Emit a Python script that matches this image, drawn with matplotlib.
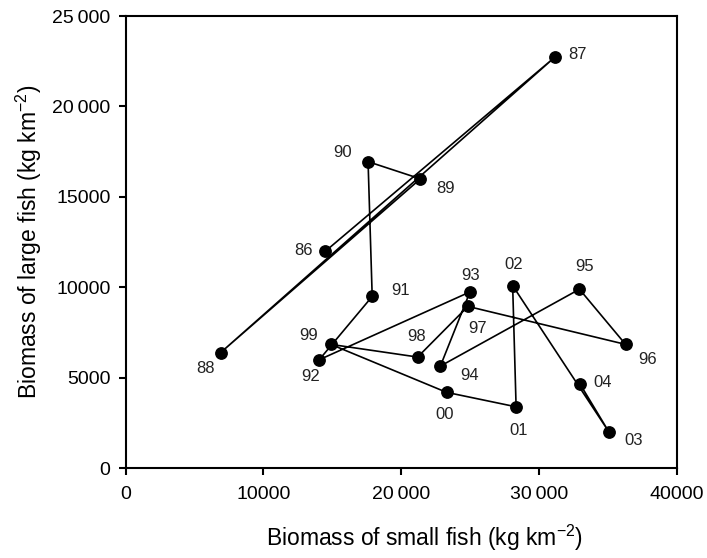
import matplotlib
matplotlib.use("Agg")
import matplotlib.pyplot as plt

plt.rcParams['font.family'] = ['Liberation Sans', 'DejaVu Sans']
plt.rcParams['mathtext.fontset'] = 'custom'
plt.rcParams['mathtext.rm'] = 'Liberation Sans'
plt.rcParams['mathtext.it'] = 'Liberation Sans'
plt.rcParams['mathtext.default'] = 'regular'

# Data (chronological order, years 1986-2004)
years = ["86", "87", "88", "89", "90", "91", "92", "93", "94", "95",
         "96", "97", "98", "99", "00", "01", "02", "03", "04"]
small_fish = [14500, 31200, 6900, 21400, 17600, 17900, 14050, 25000, 22850, 32950,
              36300, 24850, 21200, 14900, 23300, 28350, 28100, 35100, 33000]
large_fish = [12000, 22750, 6400, 16000, 16950, 9500, 6000, 9750, 5650, 9900,
              6850, 8950, 6150, 6850, 4200, 3400, 10100, 2000, 4650]

x_ticks = [0, 10000, 20000, 30000, 40000]
x_ticklabels = ["0", "10000", "20\u2009000", "30\u2009000", "40000"]
y_ticks = [0, 5000, 10000, 15000, 20000, 25000]
y_ticklabels = ["0", "5000", "10000", "15000", "20\u2009000", "25\u2009000"]

# label offsets in pixels (style only)
label_offsets = [(-22, 1), (22, 2), (-15, -16), (25, -10), (-26, 9), (28, 6),
                 (-9, -17), (1, 16), (29, -9), (5, 23), (22, -15), (10, -22),
                 (-1, 21), (-22, 9), (-2, -22), (3, -24), (1, 21), (25, -8), (22, 2)]

fig = plt.figure(figsize=(7.07, 5.58), dpi=100)
ax = fig.add_axes([0.1778, 0.1607, 0.9569 - 0.1778, 0.9713 - 0.1607])

ax.plot(small_fish, large_fish, color='black', lw=1.2, zorder=2)
ax.plot(small_fish, large_fish, 'o', color='black', ms=8.2, zorder=3)

for yr, x, y, off in zip(years, small_fish, large_fish, label_offsets):
    ax.annotate(yr, (x, y), xytext=off, textcoords='offset pixels',
                ha='center', va='center', fontsize=12, color='#222222')

ax.set_xlim(0, 40000)
ax.set_ylim(0, 25000)
ax.set_xticks(x_ticks)
ax.set_xticklabels(x_ticklabels)
ax.set_yticks(y_ticks)
ax.set_yticklabels(y_ticklabels)

for s in ax.spines.values():
    s.set_linewidth(1.5)
ax.tick_params(axis='both', direction='out', length=5, width=1.5,
               labelsize=14, colors='black')
ax.tick_params(axis='x', pad=8)
ax.tick_params(axis='y', pad=6)
ax.tick_params(top=False, right=False)

ax.set_xlabel(r"Biomass of small fish (kg km$^{-2}$)", fontsize=16.5, labelpad=14, x=0.542)
ax.set_ylabel(r"Biomass of large fish (kg km$^{-2}$)", fontsize=16.5, labelpad=6)

fig.savefig("out.png", dpi=100)
